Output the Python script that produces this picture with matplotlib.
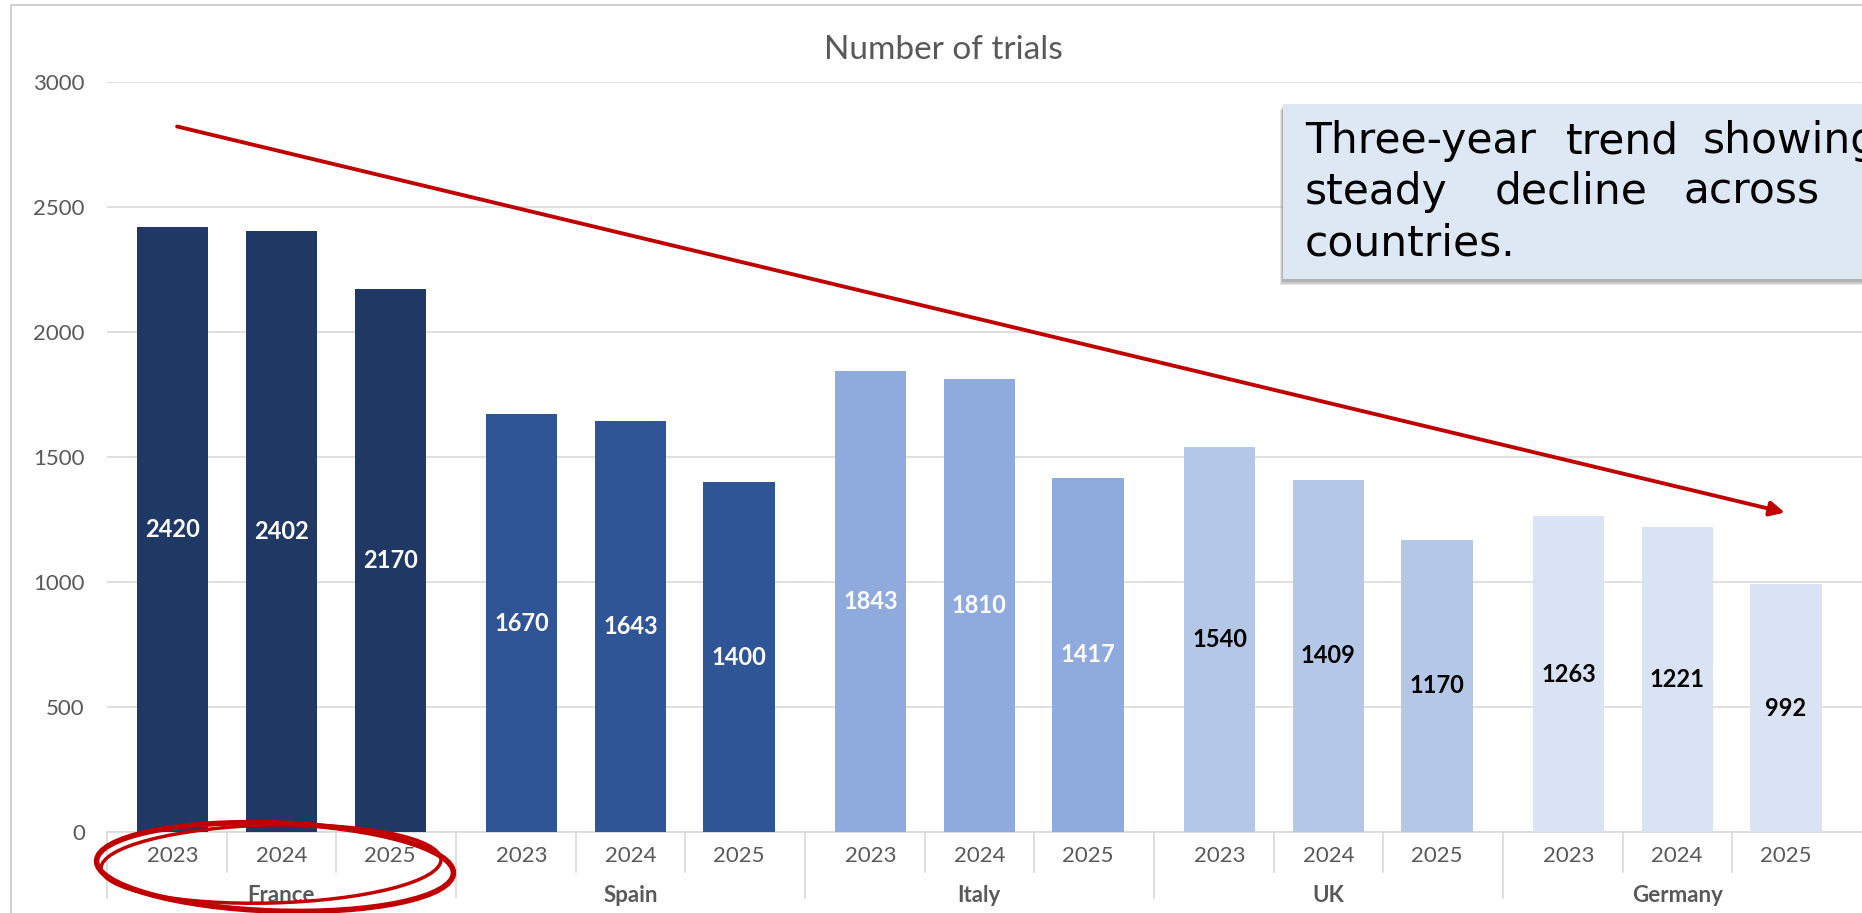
import matplotlib
matplotlib.use("Agg")
import matplotlib.pyplot as plt
from matplotlib.patches import Rectangle, Ellipse
from matplotlib.transforms import IdentityTransform

# ---------------- data ----------------
countries = ["France", "Spain", "Italy", "UK", "Germany"]
years = ["2023", "2024", "2025"]
france = [2420, 2402, 2170]
spain = [1670, 1643, 1400]
italy = [1843, 1810, 1417]
uk = [1540, 1409, 1170]
germany = [1263, 1221, 992]
series = [france, spain, italy, uk, germany]
y_ticks = [0, 500, 1000, 1500, 2000, 2500, 3000]
title = "Number of trials"
note_words = [["Three-year", "trend", "showing"],
              ["steady", "decline", "across"],
              ["countries."]]

# ---------------- style ----------------
bar_colors = ["#203864", "#2F5597", "#8FAADC", "#B4C7E7", "#DAE3F3"]
label_colors = ["white", "white", "white", "black", "black"]
grid_c = "#D9D9D9"
text_c = "#595959"
red = "#C00000"
FONT = ["Lato", "DejaVu Sans"]
plt.rcParams["font.family"] = FONT

W, H = 1862, 913
fig = plt.figure(figsize=(W / 100, H / 100), dpi=100)
fig.patch.set_facecolor("white")

ax_left, ax_bottom_px, ax_top_px = 107, 832, 82
ax = fig.add_axes([ax_left / W, 1 - ax_bottom_px / H, 1 - ax_left / W,
                   (ax_bottom_px - ax_top_px) / H])

period = 3.21
bw = 0.656
xlim = (-(period - 2) / 2, 15.54)

for g, vals in enumerate(series):
    xs = [g * period + i for i in range(len(years))]
    cont = ax.bar(xs, vals, width=bw, color=bar_colors[g], zorder=3)
    ax.bar_label(cont, labels=[str(v) for v in vals], label_type="center",
                 color=label_colors[g], fontsize=17, fontweight="bold",
                 family=FONT)

ax.set_xlim(*xlim)
ax.set_ylim(0, 3000)
ax.set_yticks(y_ticks)
ax.set_yticklabels([str(t) for t in y_ticks])
ax.tick_params(axis="y", length=0, pad=16, labelsize=16, labelcolor=text_c)
ax.set_xticks([])
for s in ["top", "left", "right"]:
    ax.spines[s].set_visible(False)
ax.spines["bottom"].set_color(grid_c)
ax.spines["bottom"].set_linewidth(1.2)
ax.grid(axis="y", color=grid_c, linewidth=1.2, zorder=0)
ax.set_axisbelow(True)

# multi-level category axis
tr = ax.get_xaxis_transform()
y_year = -(856 - 832) / 750
y_country = -(895 - 832) / 750
y_sep_short = -(872 - 832) / 750
y_sep_long = -(898 - 832) / 750
for g, c in enumerate(countries):
    base = g * period
    for i, yr in enumerate(years):
        ax.text(base + i, y_year, yr, transform=tr, ha="center", va="center",
                fontsize=16, color=text_c)
    ax.text(base + 1, y_country, c, transform=tr, ha="center", va="center",
            fontsize=16, color=text_c, fontweight="bold")
    for k in (0.5, 1.5):
        ax.plot([base + k] * 2, [0, y_sep_short], transform=tr, color=grid_c,
                lw=1.2, clip_on=False)
    ax.plot([base - (period - 2) / 2] * 2, [0, y_sep_long], transform=tr,
            color=grid_c, lw=1.2, clip_on=False)

# trend arrow
ax.annotate("", xy=(14.83, 1278), xytext=(0.04, 2822),
            arrowprops=dict(arrowstyle="-|>", color=red, lw=2.8,
                            mutation_scale=22, shrinkA=0, shrinkB=0),
            zorder=6, annotation_clip=False)

# title
fig.text(943 / W, 1 - 50 / H, title, ha="center", va="center", fontsize=24,
         color=text_c)

# chart border
fig.add_artist(Rectangle((11 / W, -0.05), 1.2, 1.05 - 5 / H,
                         transform=fig.transFigure, fill=False,
                         edgecolor="#C8C8C8", lw=1.2))

# note box with shadow
bx, by_top, by_bot = 1283, 104, 279
for k, a in enumerate([0.18, 0.25, 0.35]):
    off = 6 - k * 1.5
    fig.add_artist(Rectangle((bx - 3 + k, H - by_bot - off), 700,
                             by_bot - by_top, transform=IdentityTransform(),
                             facecolor="#7f7f7f", edgecolor="none", alpha=a,
                             zorder=7))
fig.add_artist(Rectangle((bx, H - by_bot), 700, by_bot - by_top,
                         transform=IdentityTransform(), facecolor="#DEE8F5",
                         edgecolor="none", zorder=8))
word_x = [[1305, 1566, 1703], [1305, 1495, 1683], [1305]]
baselines = [153, 204, 255]
for line, xs_, b in zip(note_words, word_x, baselines):
    for w, x in zip(line, xs_):
        fig.text(x / W, 1 - b / H, w, ha="left", va="baseline", fontsize=30.5,
                 color="black", family=["DejaVu Sans"], zorder=9)

# red hand-drawn ellipse around France
fig.add_artist(Ellipse((275, H - 867), 357, 88, angle=-2, fill=False,
                       edgecolor=red, lw=4.0, transform=IdentityTransform(),
                       zorder=10))
fig.add_artist(Ellipse((271, H - 864), 340, 78, angle=1.5, fill=False,
                       edgecolor=red, lw=2.5, transform=IdentityTransform(),
                       zorder=10))

fig.savefig("out.png", dpi=100, facecolor="white")
